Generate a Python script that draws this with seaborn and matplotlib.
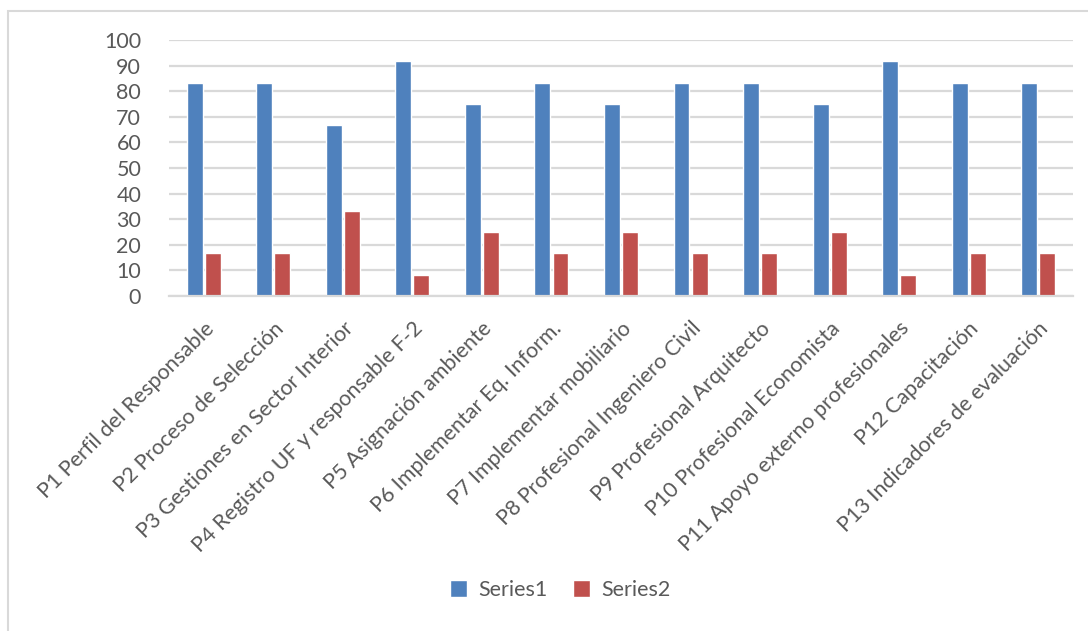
import matplotlib
matplotlib.use("Agg")
import matplotlib.pyplot as plt
import seaborn as sns
import pandas as pd
from matplotlib.patches import Rectangle

categories = [
    "P1 Perfil del Responsable",
    "P2 Proceso de Selección",
    "P3 Gestiones en Sector Interior",
    "P4 Registro UF y responsable F-2",
    "P5 Asignación ambiente",
    "P6 Implementar Eq. Inform.",
    "P7 Implementar mobiliario",
    "P8 Profesional Ingeniero Civil",
    "P9 Profesional Arquitecto",
    "P10 Profesional Economista",
    "P11 Apoyo externo profesionales",
    "P12 Capacitación",
    "P13 Indicadores de evaluación",
]
series1 = [83.33, 83.33, 66.67, 91.67, 75, 83.33, 75, 83.33, 83.33, 75, 91.67, 83.33, 83.33]
series2 = [16.67, 16.67, 33.33, 8.33, 25, 16.67, 25, 16.67, 16.67, 25, 8.33, 16.67, 16.67]
series_names = ["Series1", "Series2"]
yticks = [0, 10, 20, 30, 40, 50, 60, 70, 80, 90, 100]

df = pd.DataFrame({
    "cat": categories * 2,
    "value": series1 + series2,
    "series": [series_names[0]] * len(categories) + [series_names[1]] * len(categories),
})

sns.set_theme(style="white")
plt.rcParams["font.family"] = ["Lato", "DejaVu Sans"]

fig = plt.figure(figsize=(10.88, 6.31), dpi=100)
ax = fig.add_axes([169 / 1088, 1 - 296 / 631, (1073 - 169) / 1088, (296 - 40) / 631])

sns.barplot(data=df, x="cat", y="value", hue="series", order=categories,
            palette=["#4f81bd", "#c0504d"], width=0.52, gap=0.12,
            saturation=1, ax=ax, legend=True)

ax.set_ylim(0, 100)
ax.set_xlim(-0.5, len(categories) - 0.5)
ax.set_yticks(yticks)
ax.set_yticklabels([str(v) for v in yticks], fontsize=15.5, color="#595959")
ax.yaxis.grid(True, color="#d9d9d9", linewidth=1.6)
ax.set_axisbelow(True)
for s in ["top", "right", "left"]:
    ax.spines[s].set_visible(False)
ax.spines["bottom"].set_color("#d9d9d9")
ax.spines["bottom"].set_linewidth(1.6)
ax.tick_params(axis="both", length=0)
ax.tick_params(axis="y", pad=20)
ax.tick_params(axis="x", pad=16)
ax.set_xlabel("")
ax.set_ylabel("")
ax.set_xticks(range(len(categories)))
ax.set_xticklabels(categories, rotation=45, ha="right", va="top",
                   rotation_mode="anchor", fontsize=15.5, color="#595959")

handles, labels = ax.get_legend_handles_labels()
ax.get_legend().remove()
fig.legend(handles, labels, loc="center", bbox_to_anchor=(560 / 1088, 1 - 590 / 631),
           ncol=2, frameon=False, fontsize=15.5, labelcolor="#595959",
           handlelength=0.8, handleheight=0.8, columnspacing=1.2, handletextpad=0.5)

fig.patches.append(Rectangle((7.5 / 1088, -0.1), 1.2, 1.1 - 10.5 / 631,
                             transform=fig.transFigure, fill=False,
                             edgecolor="#d9d9d9", linewidth=1.5))

fig.savefig("out.png", dpi=100)
